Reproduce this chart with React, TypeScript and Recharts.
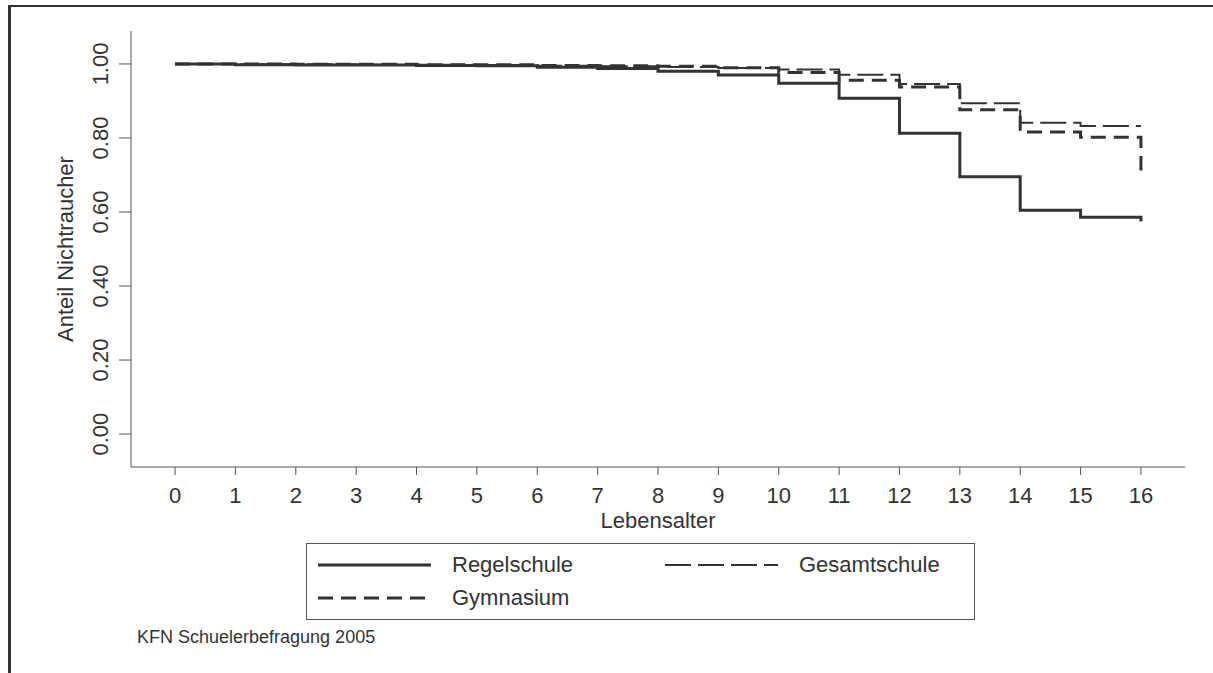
import React from "react";
import { LineChart, Line, XAxis, YAxis, Legend, Label } from "recharts";

// Kaplan-Meier: Anteil Nichtraucher nach Lebensalter und Schulform
const ages = [0, 1, 2, 3, 4, 5, 6, 7, 8, 9, 10, 11, 12, 13, 14, 15, 16];
const regelschule = [1.0, 0.998, 0.997, 0.997, 0.996, 0.995, 0.991, 0.988, 0.98, 0.97, 0.948, 0.907, 0.813, 0.695, 0.605, 0.586, 0.574];
const gesamtschule = [1.0, 0.999, 0.999, 0.998, 0.998, 0.997, 0.995, 0.994, 0.992, 0.989, 0.985, 0.971, 0.946, 0.894, 0.841, 0.832, 0.832];
const gymnasium = [1.0, 1.0, 0.999, 0.999, 0.998, 0.998, 0.996, 0.995, 0.994, 0.99, 0.977, 0.956, 0.938, 0.876, 0.816, 0.802, 0.712];
const yTicks = [0, 0.2, 0.4, 0.6, 0.8, 1.0];

const INK = "#333";
const FONT = '"Liberation Sans", Arial, sans-serif';

const series = [
  { key: "reg", name: "Regelschule", width: 3, dash: undefined as string | undefined },
  { key: "ges", name: "Gesamtschule", width: 2, dash: "26 7" },
  { key: "gym", name: "Gymnasium", width: 3, dash: "15 8" },
];

const data = ages.map((a, i) => ({
  age: a,
  reg: regelschule[i],
  ges: gesamtschule[i],
  gym: gymnasium[i],
}));

const YTick = (props: any) => {
  const { x, y, payload } = props;
  return (
    <text x={x} y={y} transform={`rotate(-90 ${x} ${y})`} textAnchor="middle" fill={INK} fontSize={22}>
      {Number(payload.value).toFixed(2)}
    </text>
  );
};

const LegendBox = () => {
  const cell = (s: (typeof series)[number], left: number, top: number) => (
    <div key={s.key} style={{ position: "absolute", left, top, height: 24, display: "flex", alignItems: "center" }}>
      <svg width={114} height={6}>
        <line x1={0} y1={3} x2={113} y2={3} stroke={INK} strokeWidth={s.width} strokeDasharray={s.dash} />
      </svg>
      <span style={{ marginLeft: 20, fontSize: 22, color: INK, fontFamily: FONT }}>{s.name}</span>
    </div>
  );
  return (
    <div style={{ position: "relative", width: 669, height: 77, border: "1px solid #555", boxSizing: "border-box", background: "#fff" }}>
      {cell(series[0], 11, 9)}
      {cell(series[1], 358, 9)}
      {cell(series[2], 11, 42)}
    </div>
  );
};

export default function App() {
  return (
    <div style={{ position: "relative", width: 1213, height: 673, background: "#fff", overflow: "hidden" }}>
      <style>{`html,body{margin:0;overflow:hidden}`}</style>
      {/* page frame: top and left rules only */}
      <div style={{ position: "absolute", left: 8, top: 5, width: 1205, height: 2, background: INK }} />
      <div style={{ position: "absolute", left: 8, top: 5, width: 3, height: 668, background: INK }} />
      <LineChart
        width={1213}
        height={673}
        data={data}
        margin={{ top: 31, right: 28, bottom: 176, left: 71 }}
        style={{ fontFamily: FONT }}
      >
        <XAxis
          dataKey="age"
          type="number"
          domain={[-0.73, 16.73]}
          ticks={ages}
          allowDataOverflow
          height={30}
          stroke="#555"
          tickSize={8}
          tickMargin={12}
          tick={{ fill: INK, fontSize: 22 }}
          tickLine={{ stroke: "#555" }}
        >
          <Label
            content={(p: any) => {
              const vb = p.viewBox;
              return (
                <text x={vb.x + vb.width / 2} y={528} textAnchor="middle" fill={INK} fontSize={22}>
                  Lebensalter
                </text>
              );
            }}
          />
        </XAxis>
        <YAxis
          type="number"
          domain={[-0.089, 1.089]}
          ticks={yTicks}
          allowDataOverflow
          width={60}
          stroke="#555"
          tickSize={12}
          tickMargin={11}
          tick={<YTick />}
          tickLine={{ stroke: "#555" }}
        >
          <Label
            content={(p: any) => {
              const vb = p.viewBox;
              const cx = vb.x + 2;
              const cy = vb.y + vb.height / 2;
              return (
                <text x={cx} y={cy} transform={`rotate(-90 ${cx} ${cy})`} textAnchor="middle" fill={INK} fontSize={22}>
                  Anteil Nichtraucher
                </text>
              );
            }}
          />
        </YAxis>
        <Legend
          layout="vertical"
          align="center"
          verticalAlign="middle"
          wrapperStyle={{ left: 306, top: 543, width: 669, height: 77 }}
          content={<LegendBox />}
        />
        {series.map((s) => (
          <Line
            key={s.key}
            dataKey={s.key}
            name={s.name}
            type="stepAfter"
            stroke={INK}
            strokeWidth={s.width}
            strokeDasharray={s.dash}
            dot={false}
            activeDot={false}
            isAnimationActive={false}
          />
        ))}
      </LineChart>
      <div style={{ position: "absolute", left: 137, top: 627, fontSize: 18, color: INK, fontFamily: FONT, whiteSpace: "nowrap" }}>
        KFN Schuelerbefragung 2005
      </div>
    </div>
  );
}
